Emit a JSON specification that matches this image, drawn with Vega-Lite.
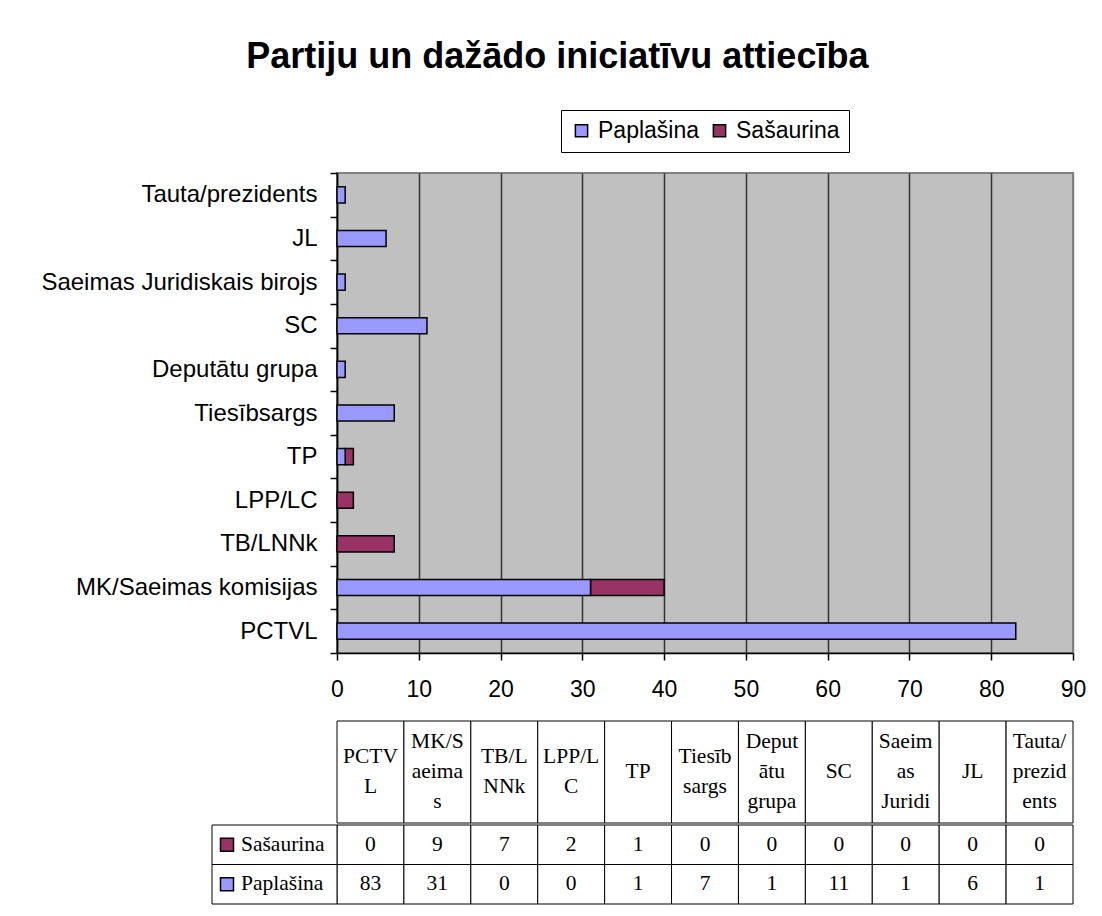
{
  "$schema": "https://vega.github.io/schema/vega-lite/v6.json",
  "background": "white",
  "padding": {"left": 39, "top": 38, "right": 10, "bottom": 10},
  "datasets": {
    "d": [
      {"party": "PCTVL", "head": "PCTV\nL", "series": "Sašaurina", "value": 0},
      {"party": "PCTVL", "head": "PCTV\nL", "series": "Paplašina", "value": 83},
      {"party": "MK/Saeimas komisijas ", "head": "MK/S\naeima\ns", "series": "Sašaurina", "value": 9},
      {"party": "MK/Saeimas komisijas ", "head": "MK/S\naeima\ns", "series": "Paplašina", "value": 31},
      {"party": "TB/LNNk", "head": "TB/L\nNNk", "series": "Sašaurina", "value": 7},
      {"party": "TB/LNNk", "head": "TB/L\nNNk", "series": "Paplašina", "value": 0},
      {"party": "LPP/LC", "head": "LPP/L\nC", "series": "Sašaurina", "value": 2},
      {"party": "LPP/LC", "head": "LPP/L\nC", "series": "Paplašina", "value": 0},
      {"party": "TP", "head": "TP", "series": "Sašaurina", "value": 1},
      {"party": "TP", "head": "TP", "series": "Paplašina", "value": 1},
      {"party": "Tiesībsargs", "head": "Tiesīb\nsargs", "series": "Sašaurina", "value": 0},
      {"party": "Tiesībsargs", "head": "Tiesīb\nsargs", "series": "Paplašina", "value": 7},
      {"party": "Deputātu grupa", "head": "Deput\nātu\ngrupa", "series": "Sašaurina", "value": 0},
      {"party": "Deputātu grupa", "head": "Deput\nātu\ngrupa", "series": "Paplašina", "value": 1},
      {"party": "SC", "head": "SC", "series": "Sašaurina", "value": 0},
      {"party": "SC", "head": "SC", "series": "Paplašina", "value": 11},
      {"party": "Saeimas Juridiskais birojs", "head": "Saeim\nas\nJuridi", "series": "Sašaurina", "value": 0},
      {"party": "Saeimas Juridiskais birojs", "head": "Saeim\nas\nJuridi", "series": "Paplašina", "value": 1},
      {"party": "JL", "head": "JL", "series": "Sašaurina", "value": 0},
      {"party": "JL", "head": "JL", "series": "Paplašina", "value": 6},
      {"party": "Tauta/prezidents", "head": "Tauta/\nprezid\nents", "series": "Sašaurina", "value": 0},
      {"party": "Tauta/prezidents", "head": "Tauta/\nprezid\nents", "series": "Paplašina", "value": 1}
    ]
  },
  "title": {
    "text": "Partiju un dažādo iniciatīvu attiecība",
    "font": "Liberation Sans",
    "fontSize": 36,
    "fontWeight": "bold",
    "color": "black",
    "anchor": "middle",
    "offset": 33,
    "dx": -6
  },
  "spacing": 18,
  "resolve": {"scale": {"color": "independent"}, "legend": {"color": "independent"}},
  "vconcat": [
    {
      "width": 736,
      "height": 480,
      "data": {"name": "d"},
      "transform": [{"filter": "datum.value > 0"}],
      "view": {"fill": "#C0C0C0", "stroke": "#808080", "strokeWidth": 2},
      "mark": {"type": "bar", "stroke": "black", "strokeWidth": 1.5, "height": {"band": 0.37}},
      "encoding": {
        "y": {
          "field": "party",
          "type": "nominal",
          "sort": ["Tauta/prezidents", "JL", "Saeimas Juridiskais birojs", "SC", "Deputātu grupa", "Tiesībsargs", "TP", "LPP/LC", "TB/LNNk", "MK/Saeimas komisijas ", "PCTVL"],
          "scale": {"paddingInner": 0, "paddingOuter": 0},
          "axis": {
            "title": null,
            "labelFont": "Liberation Sans",
            "labelFontSize": 24,
            "labelColor": "black",
            "labelLimit": 0,
            "labelPadding": 13,
            "tickSize": 7,
            "tickColor": "black",
            "tickWidth": 1.5,
            "tickBand": "extent",
            "domainColor": "black",
            "domainWidth": 1.5,
            "grid": false
          }
        },
        "x": {
          "field": "value",
          "type": "quantitative",
          "stack": "zero",
          "scale": {"domain": [0, 90], "nice": false},
          "axis": {
            "title": null,
            "values": [0, 10, 20, 30, 40, 50, 60, 70, 80, 90],
            "labelFont": "Liberation Sans",
            "labelFontSize": 23,
            "labelColor": "black",
            "labelPadding": 18,
            "labelFlush": false,
            "tickSize": 7,
            "tickColor": "black",
            "tickWidth": 1.5,
            "domainColor": "black",
            "domainWidth": 1.5,
            "grid": true,
            "gridColor": {"condition": {"test": "datum.value == 90", "value": "#808080"}, "value": "#333333"},
            "gridWidth": 1.5
          }
        },
        "order": {"field": "series", "sort": "ascending"},
        "color": {
          "field": "series",
          "type": "nominal",
          "scale": {"domain": ["Paplašina", "Sašaurina"], "range": ["#9999FF", "#993366"]},
          "legend": {
            "title": null,
            "orient": "none",
            "legendX": 224,
            "legendY": -63,
            "direction": "horizontal",
            "strokeColor": "black",
            "fillColor": "white",
            "padding": 9,
            "symbolType": "square",
            "symbolSize": 150,
            "symbolStrokeColor": "black",
            "symbolStrokeWidth": 1.5,
            "labelFont": "Liberation Sans",
            "labelFontSize": 23,
            "labelColor": "black",
            "labelOffset": 5,
            "columnPadding": 8
          }
        }
      }
    },
    {
      "spacing": 0,
      "resolve": {"scale": {"color": "independent"}, "legend": {"color": "independent"}},
      "vconcat": [
        {
          "width": 736,
          "height": 102,
          "data": {"name": "d"},
          "transform": [{"filter": "datum.series == 'Paplašina'"}],
          "layer": [
            {
              "mark": {"type": "rect", "fill": "white", "stroke": "black", "strokeWidth": 1},
              "encoding": {
                "x": {"field": "party", "type": "nominal", "sort": ["PCTVL", "MK/Saeimas komisijas ", "TB/LNNk", "LPP/LC", "TP", "Tiesībsargs", "Deputātu grupa", "SC", "Saeimas Juridiskais birojs", "JL", "Tauta/prezidents"], "scale": {"paddingInner": 0, "paddingOuter": 0}, "axis": null}
              }
            },
            {
              "transform": [{"filter": "length(split(datum.head, '\\n')) == 1"}],
              "mark": {"type": "text", "font": "Liberation Serif", "fontSize": 21.5, "color": "black", "lineBreak": "\n", "lineHeight": 30, "baseline": "middle"},
              "encoding": {
                "x": {"field": "party", "type": "nominal", "sort": ["PCTVL", "MK/Saeimas komisijas ", "TB/LNNk", "LPP/LC", "TP", "Tiesībsargs", "Deputātu grupa", "SC", "Saeimas Juridiskais birojs", "JL", "Tauta/prezidents"], "scale": {"paddingInner": 0, "paddingOuter": 0}, "axis": null},
                "text": {"field": "head", "type": "nominal"}
              }
            },
            {
              "transform": [{"filter": "length(split(datum.head, '\\n')) == 2"}],
              "mark": {"type": "text", "font": "Liberation Serif", "fontSize": 21.5, "color": "black", "lineBreak": "\n", "lineHeight": 30, "baseline": "middle", "dy": -15},
              "encoding": {
                "x": {"field": "party", "type": "nominal", "sort": ["PCTVL", "MK/Saeimas komisijas ", "TB/LNNk", "LPP/LC", "TP", "Tiesībsargs", "Deputātu grupa", "SC", "Saeimas Juridiskais birojs", "JL", "Tauta/prezidents"], "scale": {"paddingInner": 0, "paddingOuter": 0}, "axis": null},
                "text": {"field": "head", "type": "nominal"}
              }
            },
            {
              "transform": [{"filter": "length(split(datum.head, '\\n')) == 3"}],
              "mark": {"type": "text", "font": "Liberation Serif", "fontSize": 21.5, "color": "black", "lineBreak": "\n", "lineHeight": 30, "baseline": "middle", "dy": -30},
              "encoding": {
                "x": {"field": "party", "type": "nominal", "sort": ["PCTVL", "MK/Saeimas komisijas ", "TB/LNNk", "LPP/LC", "TP", "Tiesībsargs", "Deputātu grupa", "SC", "Saeimas Juridiskais birojs", "JL", "Tauta/prezidents"], "scale": {"paddingInner": 0, "paddingOuter": 0}, "axis": null},
                "text": {"field": "head", "type": "nominal"}
              }
            }
          ]
        },
        {
          "width": 736,
          "height": 79,
          "data": {"name": "d"},
          "resolve": {"scale": {"x": "independent"}},
          "layer": [
            {
              "mark": {"type": "rect", "fill": "white", "stroke": "black", "strokeWidth": 1},
              "encoding": {
                "x": {"field": "party", "type": "nominal", "sort": ["PCTVL", "MK/Saeimas komisijas ", "TB/LNNk", "LPP/LC", "TP", "Tiesībsargs", "Deputātu grupa", "SC", "Saeimas Juridiskais birojs", "JL", "Tauta/prezidents"], "scale": {"paddingInner": 0, "paddingOuter": 0}, "axis": null},
                "y": {"field": "series", "type": "nominal", "sort": ["Sašaurina", "Paplašina"], "scale": {"paddingInner": 0, "paddingOuter": 0}, "axis": null}
              }
            },
            {
              "mark": {"type": "text", "font": "Liberation Serif", "fontSize": 21.5, "color": "black"},
              "encoding": {
                "x": {"field": "party", "type": "nominal", "sort": ["PCTVL", "MK/Saeimas komisijas ", "TB/LNNk", "LPP/LC", "TP", "Tiesībsargs", "Deputātu grupa", "SC", "Saeimas Juridiskais birojs", "JL", "Tauta/prezidents"], "scale": {"paddingInner": 0, "paddingOuter": 0}, "axis": null},
                "y": {"field": "series", "type": "nominal", "sort": ["Sašaurina", "Paplašina"], "scale": {"paddingInner": 0, "paddingOuter": 0}, "axis": null},
                "text": {"field": "value", "type": "quantitative"}
              }
            },
            {
              "transform": [{"filter": "datum.party == 'PCTVL'"}],
              "mark": {"type": "rect", "fill": "white", "stroke": "black", "strokeWidth": 1},
              "encoding": {
                "x": {"datum": "rowhead", "type": "nominal", "scale": {"type": "band", "domain": ["rowhead"], "range": [-125, 0], "paddingInner": 0, "paddingOuter": 0}, "axis": null},
                "y": {"field": "series", "type": "nominal", "sort": ["Sašaurina", "Paplašina"], "scale": {"paddingInner": 0, "paddingOuter": 0}, "axis": null}
              }
            },
            {
              "transform": [{"filter": "datum.party == 'PCTVL'"}],
              "mark": {"type": "text", "font": "Liberation Serif", "fontSize": 21.5, "color": "black", "align": "left", "dx": -33.5},
              "encoding": {
                "x": {"datum": "rowhead", "type": "nominal", "scale": {"type": "band", "domain": ["rowhead"], "range": [-125, 0], "paddingInner": 0, "paddingOuter": 0}, "axis": null},
                "y": {"field": "series", "type": "nominal", "sort": ["Sašaurina", "Paplašina"], "scale": {"paddingInner": 0, "paddingOuter": 0}, "axis": null},
                "text": {"field": "series", "type": "nominal"}
              }
            },
            {
              "transform": [{"filter": "datum.party == 'PCTVL'"}],
              "mark": {"type": "point", "shape": "square", "filled": true, "size": 169, "stroke": "black", "strokeWidth": 1.5, "opacity": 1, "xOffset": -47.5},
              "encoding": {
                "x": {"datum": "rowhead", "type": "nominal", "scale": {"type": "band", "domain": ["rowhead"], "range": [-125, 0], "paddingInner": 0, "paddingOuter": 0}, "axis": null},
                "y": {"field": "series", "type": "nominal", "sort": ["Sašaurina", "Paplašina"], "scale": {"paddingInner": 0, "paddingOuter": 0}, "axis": null},
                "color": {"field": "series", "type": "nominal", "scale": {"domain": ["Paplašina", "Sašaurina"], "range": ["#9999FF", "#993366"]}, "legend": null}
              }
            }
          ]
        }
      ]
    }
  ],
  "config": {
    "view": {"stroke": null},
    "font": "Liberation Sans"
  }
}
